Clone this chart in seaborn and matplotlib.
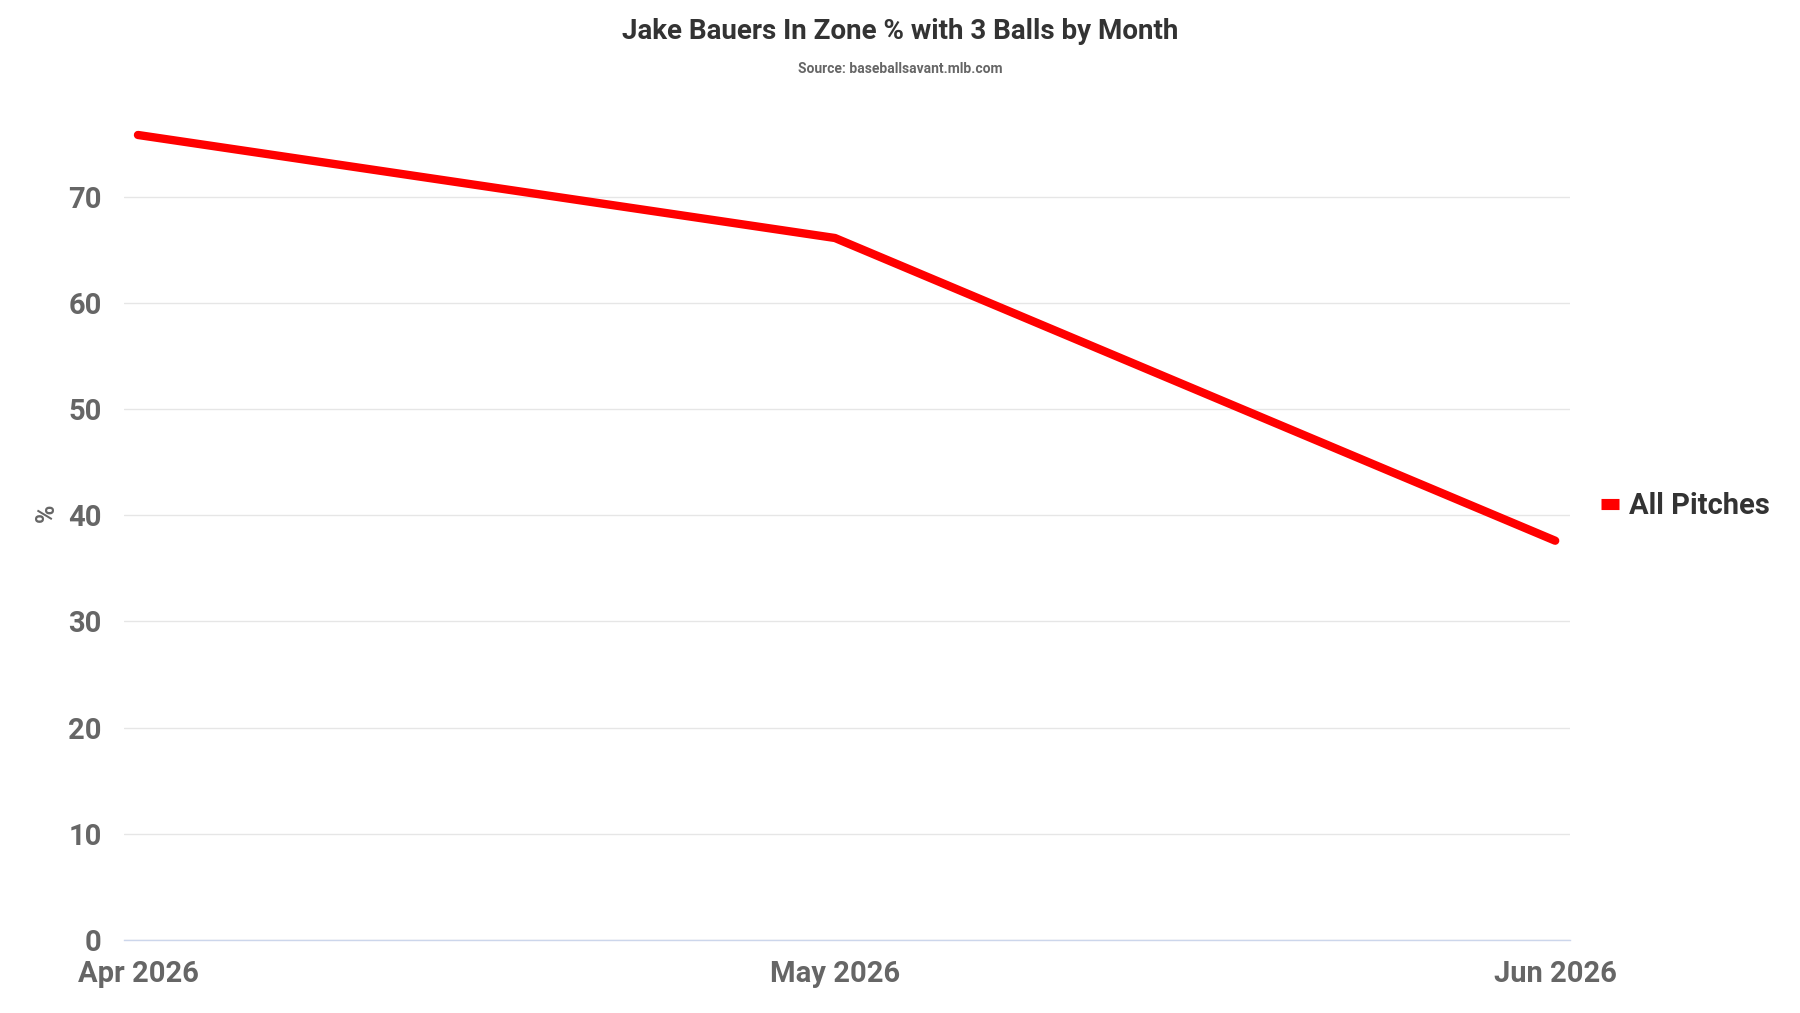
import matplotlib
matplotlib.use("Agg")
import matplotlib.pyplot as plt
from matplotlib.lines import Line2D
import seaborn as sns
import pandas as pd
import numpy as np

months = ["2026-04-01", "2026-05-01", "2026-06-01"]
month_labels = ["Apr 2026", "May 2026", "Jun 2026"]
in_zone_pct = [75.8, 66.1, 37.6]
series_name = "All Pitches"

df = pd.DataFrame({"month": pd.to_datetime(months), "pct": in_zone_pct, "series": series_name})

sns.set_theme(style="white")
FAM = ["Roboto", "DejaVu Sans"]
plt.rcParams["font.family"] = FAM

fig = plt.figure(figsize=(18, 10.13), dpi=100)
ax = fig.add_axes([0.0689, 0.072, 0.8031, 0.800])

sns.lineplot(data=df, x="month", y="pct", color="#ff0000", linewidth=6,
             solid_capstyle="round", solid_joinstyle="round", ax=ax, legend=False)

ax.set_ylim(0, 76.3)
ax.set_xlim(pd.Timestamp("2026-04-01") - pd.Timedelta(days=0.6),
            pd.Timestamp("2026-06-01") + pd.Timedelta(days=0.62))
ax.set_yticks(np.arange(0, 80, 10))
ax.set_xticks(pd.to_datetime(months))
ax.set_xticklabels(month_labels)

ax.grid(axis="y", color="#e6e6e6", linewidth=1)
ax.grid(axis="x", visible=False)
for s in ["top", "right", "left"]:
    ax.spines[s].set_visible(False)
ax.spines["bottom"].set_color("#ccd6eb")
ax.spines["bottom"].set_linewidth(1)
ax.tick_params(axis="x", colors="#ccd6eb", direction="out", length=7, width=1, pad=7,
               labelcolor="#666666", labelsize=21)
ax.tick_params(axis="y", length=0, pad=16, labelcolor="#666666", labelsize=21)
for lab in ax.get_xticklabels() + ax.get_yticklabels():
    lab.set_fontweight("bold")
    lab.set_family(FAM)

ax.set_xlabel("")
ax.set_ylabel("%", fontsize=18, fontweight="bold", color="#666666")
ax.yaxis.set_label_coords(-0.045, 0.527)

fig.text(0.5, 0.969, "Jake Bauers In Zone % with 3 Balls by Month", ha="center", va="center",
         fontsize=20, fontweight="bold", color="#333333", family=FAM)
fig.text(0.5, 0.932, "Source: baseballsavant.mlb.com", ha="center", va="center",
         fontsize=10, fontweight="bold", color="#666666", family=FAM)

handle = Line2D([0], [0], color="#ff0000", linewidth=8, solid_capstyle="butt")
leg = fig.legend([handle], [series_name], loc="center left", bbox_to_anchor=(0.875, 0.5),
                 frameon=False, handlelength=0.6, handletextpad=0.35,
                 prop={"family": FAM, "weight": "bold", "size": 21})
for t in leg.get_texts():
    t.set_color("#333333")

fig.savefig("out.png", dpi=100, facecolor="white")
